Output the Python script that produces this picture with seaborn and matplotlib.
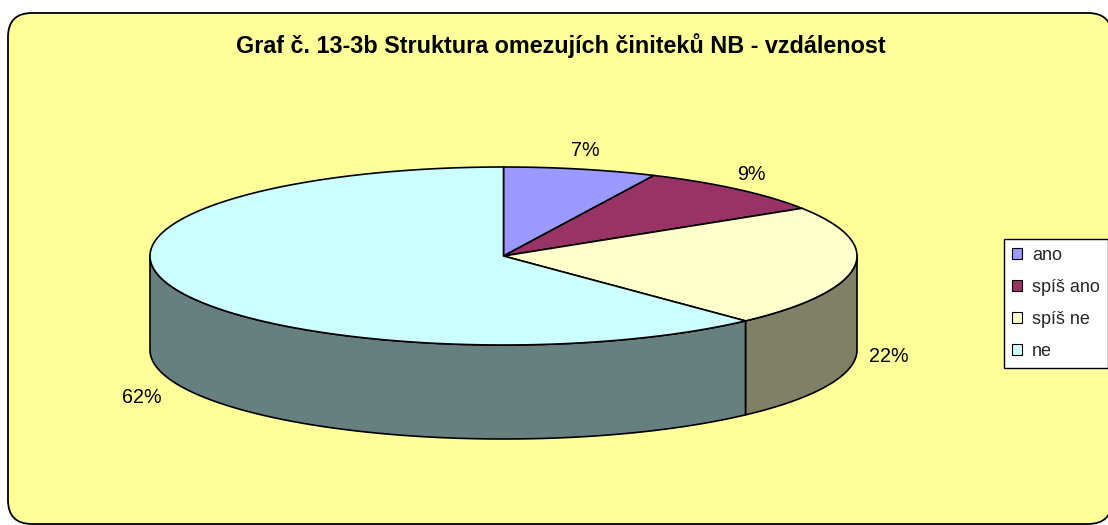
import numpy as np
import matplotlib
matplotlib.use("Agg")
import matplotlib.pyplot as plt
from matplotlib.patches import Polygon, FancyBboxPatch, Patch
from matplotlib.colors import to_rgb
import seaborn as sns

# ---- data ----
categories = ["ano", "spíš ano", "spíš ne", "ne"]
values = [7, 9, 22, 62]
top_colors = ["#9999FF", "#993366", "#FFFFCC", "#CCFFFF"]
title = "Graf č. 13-3b Struktura omezujích činiteků NB - vzdálenost"

sns.set_theme(style="white")
plt.rcParams['font.family'] = ['Liberation Sans', 'DejaVu Sans']

W, H = 1108, 525
fig = plt.figure(figsize=(W / 100, H / 100), dpi=100)
fig.patch.set_facecolor('white')
ax = fig.add_axes([0, 0, 1, 1])
ax.set_xlim(0, W)
ax.set_ylim(H, 0)
ax.axis('off')

# chart area frame
frame = FancyBboxPatch((8, 13), 1112 - 8, 524 - 13,
                       boxstyle="round,pad=0,rounding_size=24",
                       facecolor="#FFFF99", edgecolor="black", linewidth=1.3, zorder=0)
ax.add_patch(frame)

ax.text(561, 46, title, ha='center', va='center', fontsize=16.8,
        fontweight='bold', color='black', zorder=5)

# pie geometry
cx, cy, rx, ry, depth = 503.5, 256, 353.5, 89, 94
vals = np.array(values, dtype=float)
fracs = vals / vals.sum()
bounds = np.concatenate([[0], np.cumsum(fracs) * 360])


def pt(theta_deg, dy=0.0):
    t = np.radians(theta_deg)
    return cx + rx * np.sin(t), cy - ry * np.cos(t) + dy


def darken(c, f=0.5):
    r, g, b = to_rgb(c)
    return (r * f, g * f, b * f)


# side walls (front half: 90..270 deg clockwise from 12 o'clock)
for i, c in enumerate(top_colors):
    a, b = bounds[i], bounds[i + 1]
    lo, hi = max(a, 90), min(b, 270)
    if lo < hi:
        t = np.linspace(lo, hi, 200)
        xs, ys = pt(t)
        top = np.column_stack([xs, ys])
        bot = np.column_stack([xs, ys + depth])[::-1]
        poly = Polygon(np.vstack([top, bot]), closed=True, facecolor=darken(c),
                       edgecolor='black', linewidth=1.2, joinstyle='round', zorder=2)
        ax.add_patch(poly)

# top faces
for i, c in enumerate(top_colors):
    a, b = bounds[i], bounds[i + 1]
    t = np.linspace(a, b, 300)
    xs, ys = pt(t)
    pts = np.vstack([[cx, cy], np.column_stack([xs, ys])])
    poly = Polygon(pts, closed=True, facecolor=c, edgecolor='black',
                   linewidth=1.2, joinstyle='round', zorder=3)
    ax.add_patch(poly)

# data labels
for i in range(len(values)):
    mid = (bounds[i] + bounds[i + 1]) / 2
    t = np.radians(mid)
    if np.cos(t) < 0:
        lx = cx + (rx + 35) * np.sin(t)
        ly = cy - (ry + 80) * np.cos(t) + depth - 15
    else:
        lx = cx + (rx + 22) * np.sin(t)
        ly = cy - (ry + 19) * np.cos(t)
    ax.text(lx, ly, f"{fracs[i] * 100:.0f}%", ha='center', va='center',
            fontsize=14.2, color='black', zorder=5)

# legend
handles = [Patch(facecolor=c, edgecolor='black', linewidth=0.8) for c in top_colors]
leg = ax.legend(handles, categories, loc='upper left',
                bbox_to_anchor=(1004 / W, 1 - 239 / H), bbox_transform=ax.transAxes,
                frameon=True, fancybox=False, edgecolor='black', facecolor='white',
                framealpha=1, borderpad=0.45, handlelength=0.55, handleheight=0.55,
                handletextpad=0.55, labelspacing=0.82, fontsize=13, borderaxespad=0)
leg.get_frame().set_linewidth(1.0)
leg.set_zorder(6)

fig.savefig("out.png", dpi=100, facecolor=fig.get_facecolor())
